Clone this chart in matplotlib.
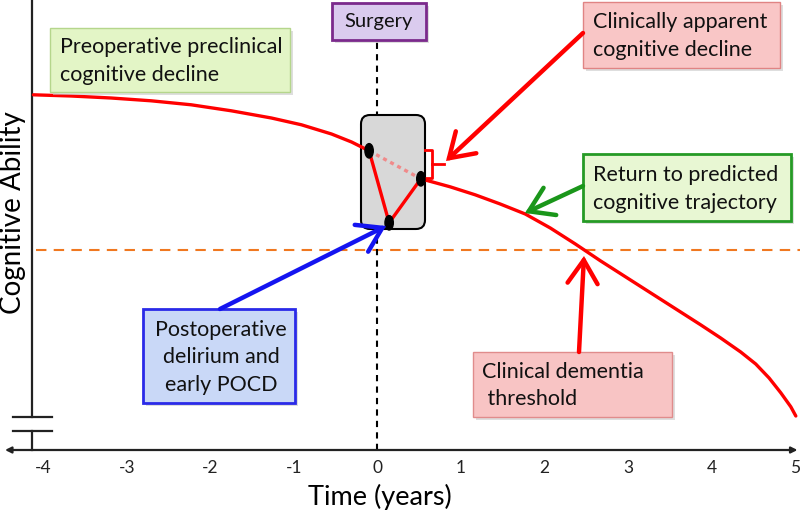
import matplotlib
matplotlib.use("Agg")
import matplotlib.pyplot as plt
from matplotlib.patches import FancyBboxPatch, Ellipse, FancyArrowPatch
from matplotlib.transforms import Affine2D

plt.rcParams['font.family'] = ['Lato', 'DejaVu Sans']

# data: years from surgery, cognitive ability (arbitrary units)
pre_t = [-4.12, -3.67, -3.19, -2.71, -2.23, -1.75, -1.27, -0.91, -0.55, -0.31, -0.10]
pre_y = [88.8, 88.5, 88.0, 87.3, 86.3, 84.8, 83.0, 81.3, 79.0, 77.0, 74.8]
dip_t = [-0.10, 0.14, 0.52]
dip_y = [74.8, 56.8, 67.8]
post_t = [0.52, 0.87, 1.17, 1.47, 1.77, 2.07, 2.37, 2.67, 2.97, 3.27, 3.57, 3.87,
          4.11, 4.35, 4.53, 4.69, 4.83, 4.95, 5.01]
post_y = [67.8, 65.8, 63.8, 61.5, 59.0, 55.5, 51.5, 47.3, 43.3, 39.3, 35.3, 31.3,
          28.0, 24.5, 21.5, 18.0, 14.3, 10.8, 8.5]
threshold = 50
xticks = [-4, -3, -2, -1, 0, 1, 2, 3, 4, 5]

W, H = 800, 517
fig = plt.figure(figsize=(W / 100, H / 100), dpi=100)
ax = fig.add_axes([0, 0, 1, 1])
ax.set_xlim(-4.52, 5.06)
ax.set_ylim(-16.75, 112.5)
ax.axis('off')

# pixel transform for the annotation layer (origin top-left)
pix = Affine2D().scale(1 / W, -1 / H).translate(0, 1) + fig.transFigure

# axes
ax.annotate('', xy=(-4.46, 0), xytext=(5.03, 0),
            arrowprops=dict(arrowstyle='<|-|>', lw=1.6, color='#222222', mutation_scale=9,
                            shrinkA=0, shrinkB=0))
ax.plot([-4.14, -4.14], [8.25, 112.5], color='#222222', lw=1.6)
ax.plot([-4.14, -4.14], [0, 4.75], color='#222222', lw=1.6)
ax.plot([-4.37, -3.9], [8.25, 8.25], color='#222222', lw=1.6)
ax.plot([-4.37, -3.9], [4.75, 4.75], color='#222222', lw=1.6)
for t in xticks:
    ax.text(t, -4.6, str(t), ha='center', va='center', fontsize=12.5, color='#222222')
ax.text(380, 497, 'Time (years)', transform=pix, ha='center', va='center', fontsize=19.5)
ax.text(13, 213, 'Cognitive Ability', transform=pix, ha='center', va='center',
        rotation=90, fontsize=20)

# threshold and surgery line
ax.axhline(threshold, xmin=0.045, xmax=1, color='#f07820', lw=1.5, ls=(0, (5, 3.5)))
ax.plot([0, 0], [0, 102.5], color='black', lw=1.5, ls=(0, (3, 2.5)))

# gray box around surgery period
ax.add_patch(FancyBboxPatch((361, 115), 64, 114, boxstyle='round,pad=0,rounding_size=9',
                            transform=pix, fc='#d8d8d8', ec='black', lw=1.5, zorder=2))

# trajectory
ax.plot(pre_t, pre_y, color='red', lw=2.4, solid_capstyle='round', solid_joinstyle='round', zorder=3)
ax.plot(post_t, post_y, color='red', lw=2.4, solid_capstyle='round', solid_joinstyle='round', zorder=3)
ax.plot(dip_t, dip_y, color='red', lw=2.4, zorder=3)
ax.plot([dip_t[0], dip_t[2]], [dip_y[0], dip_y[2]], color='#f08a8a', lw=2.4,
        ls=(0, (1.2, 1.2)), zorder=3)
for t, y in zip(dip_t, dip_y):
    ax.add_patch(Ellipse((t, y), 0.1, 3.6, fc='black', ec='black', zorder=4))

# bracket
ax.plot([425, 432, 432, 425], [150, 150, 178, 178], transform=pix, color='red', lw=2)
ax.plot([432, 444], [164, 164], transform=pix, color='red', lw=2)


def box(x0, y0, x1, y1, fc, ec, lw=1.0):
    ax.add_patch(FancyBboxPatch((x0 + 3, y0 + 3), x1 - x0, y1 - y0, boxstyle='square,pad=0',
                                transform=pix, fc='#c8c8c8', ec='none', alpha=0.6, zorder=5))
    ax.add_patch(FancyBboxPatch((x0, y0), x1 - x0, y1 - y0, boxstyle='square,pad=0',
                                transform=pix, fc=fc, ec=ec, lw=lw, zorder=6))


def lines(x, ys, texts, ha='left', size=15.5):
    for y, s in zip(ys, texts):
        ax.text(x, y, s, transform=pix, ha=ha, va='center', fontsize=size,
                color='#111111', zorder=7)


def arrow(p0, p1, color):
    ax.add_patch(FancyArrowPatch(p0, p1, transform=pix, arrowstyle='->,head_length=0.7,head_width=0.45',
                                 mutation_scale=24, color=color, lw=3.2, shrinkA=0, shrinkB=0,
                                 zorder=8, capstyle='round', joinstyle='miter'))


# surgery label
box(332, 3, 426, 40, '#dacbee', '#7b2a8c', lw=2)
lines(379, [21], ['Surgery'], ha='center', size=14.5)

box(50, 28, 290, 92, '#e3f5c6', '#b5d68c')
lines(60, [47, 75], ['Preoperative preclinical', 'cognitive decline'])

box(583, 2, 780, 68, '#f9c6c6', '#e08484')
lines(593, [22, 50], ['Clinically apparent', 'cognitive decline'])

box(583, 154, 791, 221, '#e8f7d3', '#259a25', lw=2)
lines(593, [175, 203], ['Return to predicted', 'cognitive trajectory'])

box(143, 309, 295, 403, '#c9d8f7', '#2a2ae8', lw=2)
lines(221, [330, 357, 385], ['Postoperative', 'delirium and', 'early POCD'], ha='center')

box(473, 352, 672, 417, '#f8c4c4', '#e08c8c')
lines(482, [372, 399], ['Clinical dementia', ' threshold'])

# arrows
arrow((583, 33), (446, 161), 'red')
arrow((583, 186), (525, 213), '#1a961a')
arrow((220, 309), (386, 226), '#1414f0')
arrow((579, 352), (584, 256), 'red')

fig.savefig('out.png', dpi=100)
